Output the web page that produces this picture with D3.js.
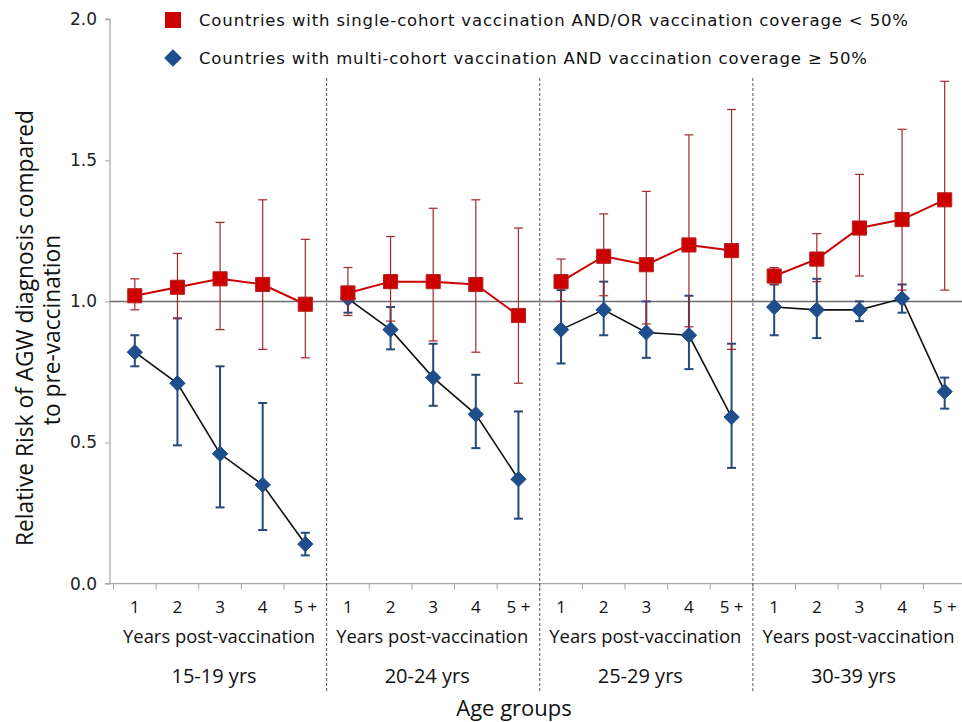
<!DOCTYPE html>
<html>
<head>
<meta charset="utf-8">
<script src="https://cdn.jsdelivr.net/npm/d3@7/dist/d3.min.js"></script>
<style>
  html, body { margin: 0; padding: 0; background: #fff; }
  svg { display: block; }
</style>
</head>
<body>
<svg id="chart" width="962" height="722"></svg>
<script>
// Age groups and years since vaccination (category axis)
const ageGroups = ["15-19 yrs", "20-24 yrs", "25-29 yrs", "30-39 yrs"];
const yearLabels = ["1", "2", "3", "4", "5 +"];
const yTicks = [0.0, 0.5, 1.0, 1.5, 2.0];

// Series 1: single-cohort vaccination AND/OR coverage < 50%
const singleRR = [1.02, 1.05, 1.08, 1.06, 0.99,  1.03, 1.07, 1.07, 1.06, 0.95,  1.07, 1.16, 1.13, 1.20, 1.18,  1.09, 1.15, 1.26, 1.29, 1.36];
const singleLo = [0.97, 0.94, 0.90, 0.83, 0.80,  0.95, 0.93, 0.86, 0.82, 0.71,  1.00, 1.02, 0.92, 0.91, 0.83,  1.06, 1.07, 1.09, 1.04, 1.04];
const singleHi = [1.08, 1.17, 1.28, 1.36, 1.22,  1.12, 1.23, 1.33, 1.36, 1.26,  1.15, 1.31, 1.39, 1.59, 1.68,  1.12, 1.24, 1.45, 1.61, 1.78];

// Series 2: multi-cohort vaccination AND coverage >= 50%
const multiRR = [0.82, 0.71, 0.46, 0.35, 0.14,  1.01, 0.90, 0.73, 0.60, 0.37,  0.90, 0.97, 0.89, 0.88, 0.59,  0.98, 0.97, 0.97, 1.01, 0.68];
const multiLo = [0.77, 0.49, 0.27, 0.19, 0.10,  0.96, 0.83, 0.63, 0.48, 0.23,  0.78, 0.88, 0.80, 0.76, 0.41,  0.88, 0.87, 0.93, 0.96, 0.62];
const multiHi = [0.88, 0.94, 0.77, 0.64, 0.18,  1.04, 0.98, 0.85, 0.74, 0.61,  1.04, 1.07, 1.00, 1.02, 0.85,  1.06, 1.08, 1.00, 1.06, 0.73];

const legendLabels = [
  "Countries with single-cohort vaccination AND/OR vaccination coverage < 50%",
  "Countries with multi-cohort vaccination AND vaccination coverage \u2265 50%"
];
const yTitleLines = ["Relative Risk of AGW diagnosis compared", "to pre-vaccination"];

const RED = "#cc0000", RED_ERR = "#a5262c", BLUE = "#1f4e8c", BLUE_ERR = "#26497a";

const svg = d3.select("#chart");
const FONT = "'DejaVu Sans', Verdana, sans-serif";
const NARROW = "'Open Sans', sans-serif";

// one key per (age group, year) category
const keys = [];
ageGroups.forEach((g, gi) => yearLabels.forEach((yl, yi) => keys.push(gi + "|" + yi)));

const x = d3.scaleBand().domain(keys).range([113.5, 966]).paddingInner(0).paddingOuter(0);
const cx = k => x(k) + x.bandwidth() / 2;
const y = d3.scaleLinear().domain([0, 2]).range([583.6, 19.2]);

const plotLeft = 110, plotRight = 962;

// font size at which a text node spans the given length
function fitSize(sel, base, len) {
  sel.attr("font-size", base);
  const w = sel.node().getComputedTextLength();
  return w > 0 ? base * len / w : base;
}

// axes
const yAxis = d3.axisLeft(y).tickValues(yTicks).tickFormat(d3.format(".1f")).tickSize(5).tickPadding(8);
const gy = svg.append("g").attr("transform", `translate(${plotLeft},0)`).call(yAxis);
gy.select(".domain").attr("stroke", "#a6a6a6").attr("stroke-width", 1.2).attr("d", `M-5,${y(2)}H0V${y(0)}H-5`);
gy.selectAll(".tick line").attr("stroke", "#a6a6a6");
gy.selectAll(".tick text").attr("font-family", FONT).attr("font-size", 17).attr("fill", "#222");

// x axis baseline with ticks at category boundaries
svg.append("line").attr("x1", plotLeft).attr("x2", plotRight).attr("y1", y(0)).attr("y2", y(0))
  .attr("stroke", "#a6a6a6").attr("stroke-width", 1.2);
svg.append("g").selectAll("line").data(keys).join("line")
  .attr("x1", d => x(d)).attr("x2", d => x(d))
  .attr("y1", y(0)).attr("y2", y(0) + 6)
  .attr("stroke", "#a6a6a6");

// category labels
svg.append("g").selectAll("text").data(keys).join("text")
  .attr("x", d => cx(d)).attr("y", 613)
  .attr("text-anchor", "middle")
  .attr("font-family", NARROW).attr("font-size", 17).attr("fill", "#111")
  .text(d => yearLabels[+d.split("|")[1]]);

// group labels
ageGroups.forEach((g, gi) => {
  const first = x(gi + "|0"), last = x(gi + "|4") + x.bandwidth();
  const mid = (first + last) / 2;
  svg.append("text").attr("x", mid - 1).attr("y", 643).attr("text-anchor", "middle")
    .attr("font-family", NARROW).attr("font-size", 17.5).attr("fill", "#111")
    .attr("textLength", 192).attr("lengthAdjust", "spacingAndGlyphs")
    .text("Years post-vaccination");
  svg.append("text").attr("x", mid - 6).attr("y", 683).attr("text-anchor", "middle")
    .attr("font-family", NARROW).attr("font-size", 20).attr("fill", "#111")
    .text(g);
});

// group separators
[1, 2, 3].forEach(gi => {
  const sx = x(gi + "|0");
  svg.append("line").attr("x1", sx).attr("x2", sx).attr("y1", 78).attr("y2", 692)
    .attr("stroke", "#555").attr("stroke-width", 1).attr("stroke-dasharray", "3,2");
});

// reference line at RR = 1
svg.append("line").attr("x1", plotLeft).attr("x2", plotRight).attr("y1", y(1)).attr("y2", y(1))
  .attr("stroke", "#6e6e6e").attr("stroke-width", 1.5);

// axis titles
svg.append("text").attr("x", 514).attr("y", 716).attr("text-anchor", "middle")
  .attr("font-family", NARROW).attr("font-size", 22).attr("fill", "#111").text("Age groups");
const yt = svg.append("g").attr("transform", `translate(0,328) rotate(-90)`);
const yt1 = yt.append("text").attr("x", 0).attr("y", 33).attr("text-anchor", "middle")
  .attr("font-family", NARROW).attr("fill", "#111").text(yTitleLines[0]);
const titleSize = fitSize(yt1, 21, 436);
yt1.attr("font-size", titleSize);
yt.append("text").attr("x", -2).attr("y", 60).attr("text-anchor", "middle")
  .attr("font-family", NARROW).attr("font-size", titleSize).attr("fill", "#111").text(yTitleLines[1]);

// series drawing
function drawSeries(rr, lo, hi, opts) {
  const g = svg.append("g");
  const rows = keys.map((k, i) => ({ k, v: rr[i], lo: lo[i], hi: hi[i], grp: Math.floor(i / 5) }));
  // error bars
  const eb = g.append("g").attr("stroke", opts.errColor).attr("stroke-width", opts.errWidth);
  eb.selectAll("line.v").data(rows).join("line").attr("class", "v")
    .attr("x1", d => cx(d.k)).attr("x2", d => cx(d.k)).attr("y1", d => y(d.hi)).attr("y2", d => y(d.lo));
  eb.selectAll("line.t").data(rows).join("line").attr("class", "t")
    .attr("x1", d => cx(d.k) - 4.5).attr("x2", d => cx(d.k) + 4.5).attr("y1", d => y(d.hi)).attr("y2", d => y(d.hi));
  eb.selectAll("line.b").data(rows).join("line").attr("class", "b")
    .attr("x1", d => cx(d.k) - 4.5).attr("x2", d => cx(d.k) + 4.5).attr("y1", d => y(d.lo)).attr("y2", d => y(d.lo));
  // connecting lines per age group
  const line = d3.line().x(d => cx(d.k)).y(d => y(d.v));
  d3.range(ageGroups.length).forEach(gi => {
    g.append("path").datum(rows.filter(r => r.grp === gi)).attr("d", line)
      .attr("fill", "none").attr("stroke", opts.lineColor).attr("stroke-width", opts.lineWidth);
  });
  // markers
  g.selectAll("path.m").data(rows).join("path").attr("class", "m")
    .attr("transform", d => `translate(${cx(d.k)},${y(d.v)})`)
    .attr("d", d3.symbol().type(opts.symbol).size(opts.size))
    .attr("fill", opts.fill).attr("stroke", opts.stroke).attr("stroke-width", 1);
}

drawSeries(multiRR, multiLo, multiHi, {
  errColor: BLUE_ERR, errWidth: 2, lineColor: "#111", lineWidth: 1.6,
  symbol: d3.symbolDiamond2, size: 150, fill: BLUE, stroke: BLUE
});
drawSeries(singleRR, singleLo, singleHi, {
  errColor: RED_ERR, errWidth: 1.2, lineColor: RED, lineWidth: 2,
  symbol: d3.symbolSquare, size: 200, fill: RED, stroke: "#b22222"
});

// legend
const legend = svg.append("g");
const lg = [
  { label: legendLabels[0], symbol: d3.symbolSquare, size: 256, fill: RED, y: 20, len: 709 },
  { label: legendLabels[1], symbol: d3.symbolDiamond2, size: 200, fill: BLUE, y: 58, len: 668 }
];
lg.forEach(d => {
  legend.append("path").attr("transform", `translate(173,${d.y})`)
    .attr("d", d3.symbol().type(d.symbol).size(d.size)).attr("fill", d.fill);
  legend.append("text").attr("x", 199).attr("y", d.y).attr("dy", "0.35em")
    .attr("font-family", FONT).attr("font-size", 16.5).attr("fill", "#111")
    .attr("textLength", d.len).attr("lengthAdjust", "spacing")
    .text(d.label);
});
</script>
</body>
</html>
